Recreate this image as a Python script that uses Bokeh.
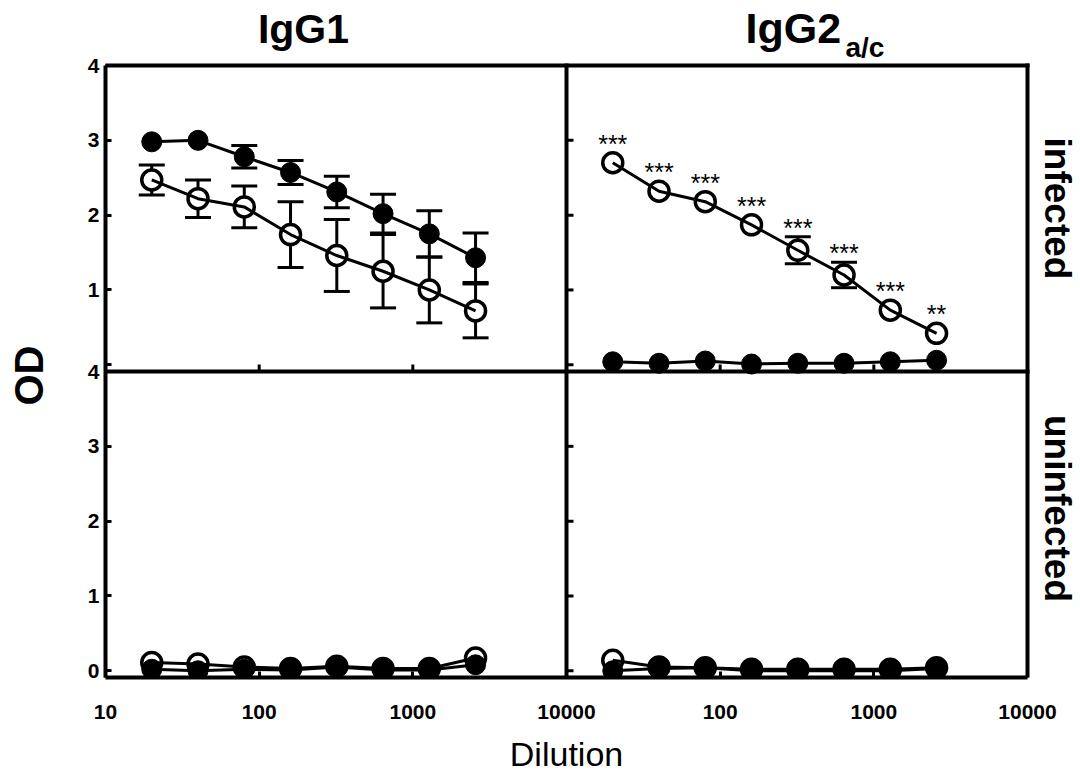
import math
from bokeh.plotting import figure
from bokeh.layouts import column, row
from bokeh.models import (Range1d, LogScale, FixedTicker, ColumnDataSource,
                          Whisker, TeeHead)
from bokeh.embed import file_html
from bokeh.resources import INLINE
from bokeh.core.properties import value

# ---------------- data ----------------
dilutions = [20, 40, 80, 160, 320, 640, 1280, 2560]

# IgG1, infected
igg1_inf_filled = [2.98, 3.00, 2.78, 2.57, 2.31, 2.02, 1.75, 1.43]
igg1_inf_filled_err = [0.0, 0.0, 0.15, 0.16, 0.21, 0.26, 0.31, 0.33]
igg1_inf_open = [2.47, 2.22, 2.11, 1.74, 1.46, 1.25, 1.00, 0.72]
igg1_inf_open_err = [0.20, 0.25, 0.28, 0.44, 0.48, 0.49, 0.44, 0.36]

# IgG2a/c, infected
igg2_inf_open = [2.70, 2.32, 2.18, 1.87, 1.53, 1.20, 0.73, 0.42]
igg2_inf_open_err = [0.0, 0.0, 0.0, 0.0, 0.18, 0.17, 0.0, 0.0]
igg2_inf_filled = [0.04, 0.02, 0.05, 0.01, 0.02, 0.02, 0.04, 0.06]
igg2_inf_filled_err = [0.0, 0.0, 0.0, 0.0, 0.0, 0.0, 0.0, 0.0]
igg2_significance = ["***", "***", "***", "***", "***", "***", "***", "**"]

# IgG1, uninfected
igg1_uninf_open = [0.11, 0.09, 0.05, 0.03, 0.06, 0.03, 0.03, 0.17]
igg1_uninf_filled = [0.02, 0.00, 0.02, 0.01, 0.05, 0.01, 0.01, 0.08]

# IgG2a/c, uninfected
igg2_uninf_open = [0.14, 0.05, 0.04, 0.02, 0.02, 0.02, 0.02, 0.04]
igg2_uninf_filled = [0.00, 0.03, 0.04, 0.00, 0.00, 0.00, 0.00, 0.03]

x_ticks = [10, 100, 1000, 10000]
x_tick_labels = ["10", "100", "1000", "10000"]
y_ticks = [0, 1, 2, 3, 4]
y_tick_labels = ["0", "1", "2", "3", "4"]
column_titles = ["IgG1", "IgG2"]
column_subscripts = ["", "a/c"]
row_titles = ["infected", "uninfected"]
x_title = "Dilution"
y_title = "OD"

# ---------------- geometry ----------------
X_MIN, X_MAX = 10.0, 10000.0
DEC = X_MAX / X_MIN
Y_MIN, Y_MAX = -0.09, 4.0
SPAN = Y_MAX - Y_MIN

FONT = "Liberation Sans"

LEFT_W = 55          # strip holding "OD"
AXIS_W = 50          # y tick labels
PANEL_W = 461        # one panel, px
PANEL_H = 306
TOP_PAD = 65         # room above panels for column titles
RIGHT_PAD = 51       # room right of panels for row titles
B_BOT = 52           # x tick labels
BOTTOM_H = 43        # strip holding "Dilution"

FRAME_LEFT = LEFT_W + AXIS_W
FRAME_W = 2 * PANEL_W + RIGHT_PAD
FRAME_H = TOP_PAD + 2 * PANEL_H
FRAME_BOTTOM = FRAME_H
MAIN_W = AXIS_W + FRAME_W
MAIN_H = FRAME_H + B_BOT
TOTAL_W = LEFT_W + MAIN_W

PX_DEC = PANEL_W / math.log10(DEC)
PX_UNIT = PANEL_H / SPAN


def xL(px):  # page pixel -> left-panel x data
    return X_MIN * 10 ** ((px - FRAME_LEFT) / PX_DEC)


def yB(py):  # page pixel -> bottom-panel y data
    return Y_MIN + (FRAME_BOTTOM - py) / PX_UNIT


L_END = xL(FRAME_LEFT + FRAME_W)
B_END = yB(0)

p = figure(width=MAIN_W, height=MAIN_H,
           min_border_left=AXIS_W, min_border_right=0,
           min_border_top=0, min_border_bottom=B_BOT,
           x_axis_type="log",
           x_range=Range1d(X_MIN, L_END),
           y_range=Range1d(Y_MIN, B_END),
           output_backend="svg", toolbar_location=None)
p.extra_x_ranges = {"R": Range1d(X_MIN / DEC, L_END / DEC)}
p.extra_x_scales = {"R": LogScale()}
p.extra_y_ranges = {"T": Range1d(Y_MIN - SPAN, B_END - SPAN)}

p.grid.visible = False
p.outline_line_color = None
p.background_fill_color = "white"
p.border_fill_color = "white"

# bottom axis: left panel ticks + right panel ticks
xa = p.xaxis[0]
right_xt = [t * DEC for t in x_ticks[1:]]
xa.ticker = FixedTicker(ticks=x_ticks + right_xt, minor_ticks=[])
ov = {t: l for t, l in zip(x_ticks, x_tick_labels)}
ov.update({t * DEC: l for t, l in zip(x_ticks[1:], x_tick_labels[1:])})
xa.major_label_overrides = ov
xa.bounds = (X_MIN, X_MAX * DEC)

# left axis: bottom panel ticks + top panel ticks
ya = p.yaxis[0]
top_yt = [t + SPAN for t in y_ticks]
ya.ticker = FixedTicker(ticks=y_ticks + top_yt, minor_ticks=[])
yov = {t: l for t, l in zip(y_ticks, y_tick_labels)}
yov.update({t + SPAN: (l if t != 0 else "") for t, l in zip(y_ticks, y_tick_labels)})
ya.major_label_overrides = yov
ya.bounds = (Y_MIN, Y_MAX + SPAN)

for ax, standoff in ((xa, 27), (ya, 6)):
    ax.major_tick_in = 6
    ax.major_tick_out = 0
    ax.minor_tick_line_color = None
    ax.major_tick_line_width = 3
    ax.major_tick_line_color = "black"
    ax.axis_line_width = 4
    ax.axis_line_color = "black"
    ax.major_label_standoff = standoff
    ax.major_label_text_font = FONT
    ax.major_label_text_font_style = "bold"
    ax.major_label_text_font_size = "21px"
    ax.major_label_text_color = "black"

# panel frame lines (top, right, middle vertical, middle horizontal)
p.segment(x0=[X_MIN, X_MAX * DEC, X_MAX, X_MIN],
          y0=[Y_MAX + SPAN, Y_MIN, Y_MIN, Y_MAX],
          x1=[X_MAX * DEC, X_MAX * DEC, X_MAX, X_MAX * DEC],
          y1=[Y_MAX + SPAN, Y_MAX + SPAN, Y_MAX + SPAN, Y_MAX],
          line_color="black", line_width=4, line_cap="square")

# inner ticks on dividers
inner_x = [t for t in x_ticks if X_MIN < t < X_MAX]
for xr in ("default", "R"):
    p.ray(x=inner_x, y=[Y_MIN] * len(inner_x), length=7, length_units="screen",
          angle=math.pi / 2, line_color="black", line_width=3,
          x_range_name=xr, y_range_name="T")
for yr in ("default", "T"):
    p.ray(x=[X_MIN] * len(y_ticks), y=y_ticks, length=7, length_units="screen",
          angle=0, line_color="black", line_width=3,
          x_range_name="R", y_range_name=yr)


def whiskers(ys, errs, xr, yr):
    idx = [i for i, e in enumerate(errs) if e > 0]
    if not idx:
        return
    src = ColumnDataSource(dict(base=[dilutions[i] for i in idx],
                                upper=[ys[i] + errs[i] for i in idx],
                                lower=[ys[i] - errs[i] for i in idx]))
    w = Whisker(source=src, base="base", upper="upper", lower="lower",
                dimension="height", line_color="black", line_width=3,
                upper_head=TeeHead(size=26, line_width=3, line_color="black"),
                lower_head=TeeHead(size=26, line_width=3, line_color="black"),
                level="underlay", x_range_name=xr, y_range_name=yr)
    p.add_layout(w)


def panel(open_y, filled_y, xr, yr):
    p.scatter(dilutions, open_y, size=20, marker="circle", fill_color="white",
              line_color="black", line_width=3.5, x_range_name=xr, y_range_name=yr)
    p.scatter(dilutions, filled_y, size=20, marker="circle", fill_color="black",
              line_color="black", line_width=1, x_range_name=xr, y_range_name=yr)
    p.line(dilutions, open_y, line_color="black", line_width=3,
           x_range_name=xr, y_range_name=yr)
    p.line(dilutions, filled_y, line_color="black", line_width=3,
           x_range_name=xr, y_range_name=yr)


whiskers(igg1_inf_filled, igg1_inf_filled_err, "default", "T")
whiskers(igg1_inf_open, igg1_inf_open_err, "default", "T")
whiskers(igg2_inf_open, igg2_inf_open_err, "R", "T")
whiskers(igg2_inf_filled, igg2_inf_filled_err, "R", "T")

panel(igg1_inf_open, igg1_inf_filled, "default", "T")
panel(igg2_inf_open, igg2_inf_filled, "R", "T")
panel(igg1_uninf_open, igg1_uninf_filled, "default", "default")
panel(igg2_uninf_open, igg2_uninf_filled, "R", "default")

# significance stars
star_src = ColumnDataSource(dict(
    x=dilutions,
    y=[v + e for v, e in zip(igg2_inf_open, igg2_inf_open_err)],
    t=igg2_significance,
    off=[-19 if e == 0 else -9 for e in igg2_inf_open_err]))
p.text(x="x", y="y", text="t", source=star_src, x_range_name="R", y_range_name="T",
       text_align="center", text_baseline="middle", y_offset="off",
       text_font=value(FONT), text_font_size="25px", text_color="black")


def centre(baseline, size):
    return baseline - 0.35 * size


def put(f, x, y, txt, size, bold=True, angle=0.0, align="center"):
    f.text(x=[x], y=[y], text=[txt], angle=angle,
           text_align=align, text_baseline="middle",
           text_font=value(FONT), text_font_style="bold" if bold else "normal",
           text_font_size=f"{size}px", text_color="black")


# column titles and row titles inside the main figure (page pixel positions)
put(p, xL(303), yB(centre(43, 41)), column_titles[0], 41)
put(p, xL(745), yB(centre(43, 43)), column_titles[1], 43, align="left")
put(p, xL(845), yB(centre(57, 28)), column_subscripts[1], 28, align="left")
put(p, xL(1057), yB(208), row_titles[0], 37, angle=-math.pi / 2)
put(p, xL(1057), yB(508), row_titles[1], 37, angle=-math.pi / 2)


def blank(w, h, bottom=0):
    f = figure(width=w, height=h, x_range=Range1d(0, w), y_range=Range1d(0, h - bottom),
               min_border_left=0, min_border_right=0,
               min_border_top=0, min_border_bottom=bottom,
               x_axis_location=None, y_axis_location=None,
               output_backend="svg", toolbar_location=None)
    f.grid.visible = False
    f.outline_line_color = None
    f.background_fill_color = "white"
    f.border_fill_color = "white"
    return f


left = blank(LEFT_W, MAIN_H, B_BOT)
put(left, 28, FRAME_BOTTOM - 375, y_title, 40, angle=math.pi / 2)

bottom = blank(TOTAL_W, BOTTOM_H)
put(bottom, 566, MAIN_H + BOTTOM_H - centre(765, 34), x_title, 34, bold=False)

layout = column(row(left, p), bottom)

open("out.html", "w").write(file_html(layout, INLINE))
